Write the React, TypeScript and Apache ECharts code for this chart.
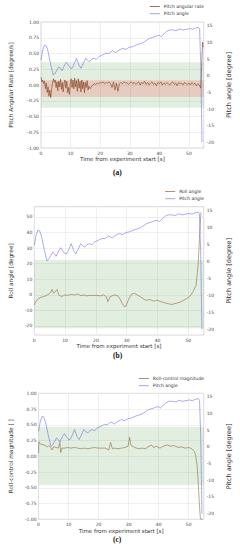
import React, { useEffect, useRef } from "react";
import * as echarts from "echarts";

// ---------- data ----------
const PITCH_T = [0, 0.6, 1.2, 1.8, 2.4, 3.2, 4.1, 4.6, 5.4, 6.0, 6.6, 7.1, 8.0, 8.6, 9.2, 10.0, 10.5, 11.3, 12.0, 12.8, 13.5, 14.3, 15.1, 15.6, 16.4, 17.1, 17.9, 18.7, 19.6, 20.7, 21.9, 23.0, 24.1, 25.3, 26.4, 27.6, 28.7, 29.8, 31.0, 32.1, 33.2, 34.4, 35.5, 36.6, 37.8, 38.9, 40.0, 40.6, 41.2, 42.3, 43.4, 44.6, 45.7, 46.8, 48.0, 49.1, 50.2, 51.2, 52.2, 53.2, 53.6, 54.0, 54.4];
const PITCH = [4.7, 7.7, 9.2, 8.9, 7.2, 3.7, 0.2, 0.5, 1.7, 2.7, 2.2, 1.5, 3.2, 4.0, 3.2, 2.2, 2.2, 3.7, 5.2, 3.2, 2.2, 3.7, 5.2, 4.7, 4.2, 4.9, 5.2, 4.9, 5.7, 6.2, 6.7, 6.7, 7.5, 6.9, 7.7, 8.2, 7.9, 8.5, 8.7, 9.2, 9.5, 9.9, 10.5, 11.2, 11.5, 11.9, 12.1, 11.7, 12.2, 13.2, 13.7, 13.7, 13.5, 14.0, 13.7, 13.9, 14.1, 13.9, 14.3, 14.5, 14.0, 3.0, -20.0];

const RATE_T = [0, 0.3, 0.6, 0.9, 1.2, 1.5, 1.8, 2.1, 2.4, 2.7, 3.0, 3.3, 3.6, 3.9, 4.2, 4.5, 4.8, 5.1, 5.4, 5.7, 6.0, 6.3, 6.6, 6.9, 7.2, 7.5, 7.8, 8.1, 8.4, 8.7, 9.0, 9.3, 9.6, 9.9, 10.2, 10.5, 10.8, 11.1, 11.4, 11.7, 12.0, 12.3, 12.6, 12.9, 13.2, 13.5, 13.8, 14.1, 14.4, 14.7, 15.0, 15.3, 15.6, 15.9, 16.2, 16.6, 17.0, 17.5, 18.0, 18.5, 19.0, 19.5, 20.0, 20.5, 21.0, 21.5, 22.0, 22.5, 23.0, 23.5, 24.0, 24.5, 25.0, 25.5, 26.0, 26.5, 27.0, 27.5, 28.0, 28.5, 29.0, 29.5, 30.0, 30.5, 31.0, 31.5, 32.0, 32.5, 33.0, 33.5, 34.0, 34.5, 35.0, 35.5, 36.0, 36.5, 37.0, 37.5, 38.0, 38.5, 39.0, 39.5, 40.0, 40.5, 41.0, 41.5, 42.0, 42.5, 43.0, 43.5, 44.0, 44.5, 45.0, 45.5, 46.0, 46.5, 47.0, 47.5, 48.0, 48.5, 49.0, 49.5, 50.0, 50.5, 51.0, 51.5, 52.0, 52.5, 53.0, 53.5, 54.0, 54.3, 54.6, 54.8];
const RATE = [0.12, 0.05, 0.08, 0.02, 0.06, -0.06, 0.03, -0.12, -0.03, -0.18, -0.08, -0.2, -0.06, 0.03, 0.1, 0.04, 0.08, -0.04, 0.05, -0.09, 0.06, -0.03, 0.09, -0.07, 0.04, -0.11, 0.03, 0.08, -0.05, 0.06, -0.12, -0.04, -0.15, 0.02, 0.1, -0.04, 0.08, -0.06, 0.11, -0.03, 0.07, -0.1, 0.1, -0.05, 0.06, -0.11, 0.08, -0.06, 0.05, -0.12, 0.04, -0.04, 0.07, -0.08, -0.02, -0.06, -0.03, 0.0, 0.02, 0.01, 0.03, 0.02, 0.04, 0.03, 0.05, 0.02, 0.04, 0.03, 0.05, 0.02, -0.04, 0.05, -0.08, 0.03, -0.1, 0.02, 0.04, 0.02, 0.05, 0.03, 0.04, 0.01, 0.03, 0.05, 0.02, 0.04, 0.01, 0.03, 0.05, 0.0, 0.04, 0.02, 0.06, 0.01, 0.04, 0.0, 0.03, 0.05, 0.01, 0.03, -0.01, 0.04, 0.02, 0.05, 0.0, 0.03, 0.01, 0.04, 0.02, 0.0, 0.03, 0.05, 0.01, 0.03, -0.01, 0.04, 0.02, 0.03, 0.0, 0.04, 0.02, 0.01, 0.03, 0.0, 0.04, 0.01, 0.03, -0.01, 0.02, 0.0, -0.05, 0.3, 0.68, 0.6];

const ROLL_T = [0, 0.5, 1.05, 2.1, 3.2, 4.2, 5.3, 5.8, 6.3, 6.8, 7.4, 7.9, 8.9, 10.0, 11.0, 12.0, 13.1, 14.1, 15.1, 16.1, 17.1, 18.2, 19.2, 20.2, 21.4, 22.5, 23.4, 23.9, 24.6, 26.0, 27.1, 27.7, 28.5, 29.2, 29.8, 30.6, 31.6, 32.5, 33.75, 35.0, 36.25, 37.5, 38.75, 40.0, 41.2, 42.5, 44.5, 46.0, 47.5, 49.0, 50.5, 51.5, 52.5, 53.2, 53.7, 54.1];
const ROLL = [-6.5, -4.4, -2.9, -1.6, -1.1, -0.1, 1.4, 3.5, 1.0, 2.0, 3.5, 0.0, -1.1, -0.1, -0.3, 0.3, -0.1, 0.6, -0.5, -0.1, -0.7, -0.3, -0.5, -0.3, -0.7, -0.1, -1.2, -4.4, -1.2, -0.1, -0.7, -2.2, -5.4, -7.5, -7.2, -3.0, 0.5, 1.0, -0.5, -2.0, -3.5, -3.0, -4.0, -3.5, -4.5, -5.2, -6.2, -5.5, -4.5, -3.0, -1.0, 2.0, 6.0, 20.0, 40.0, 53.0];

const CTRL_T = [0, 0.1, 0.3, 0.8, 1.9, 2.9, 3.4, 4.0, 4.5, 5.0, 6.0, 6.6, 7.1, 7.4, 7.8, 8.6, 9.7, 10.8, 11.9, 13.0, 14.2, 15.3, 16.4, 17.5, 18.7, 19.8, 20.9, 22.2, 23.4, 24.0, 24.6, 25.2, 26.4, 27.6, 28.8, 29.8, 30.3, 30.8, 32.0, 33.2, 34.4, 35.6, 36.8, 37.6, 38.2, 39.2, 40.4, 41.6, 42.8, 44.0, 45.2, 46.4, 47.6, 48.8, 50.0, 51.0, 51.8, 52.3, 52.8, 53.2, 53.6, 53.9, 54.7];
const CTRL = [0.05, 0.23, 0.21, 0.19, 0.18, 0.15, 0.17, 0.14, 0.1, 0.15, 0.14, 0.13, 0.22, 0.06, 0.13, 0.13, 0.14, 0.13, 0.14, 0.13, 0.12, 0.13, 0.12, 0.13, 0.14, 0.13, 0.13, 0.13, 0.1, 0.22, 0.12, 0.13, 0.12, 0.13, 0.14, 0.16, 0.3, 0.17, 0.14, 0.12, 0.13, 0.12, 0.16, 0.18, 0.14, 0.16, 0.13, 0.16, 0.18, 0.16, 0.17, 0.14, 0.15, 0.13, 0.14, 0.12, 0.08, 0.02, -0.15, -0.45, -0.8, -1.0, -1.0];

const X_TICKS = [0, 10, 20, 30, 40, 50];
const RIGHT_TICKS = [-20, -15, -10, -5, 0, 5, 10, 15];
const RATE_TICKS = [-1, -0.75, -0.5, -0.25, 0, 0.25, 0.5, 0.75, 1];
const ROLL_TICKS = [-20, -10, 0, 10, 20, 30, 40, 50];

const GREEN_A = [0.36, -0.36];
const RED_A = [0.075, -0.19];
const GREEN_B = [22.4, -21.5];
const GREEN_C = [0.465, -0.455];

// ---------- styling ----------
const FONT = "DejaVu Sans";
const PITCH_COLOR = "rgba(70,70,235,0.5)";
const BROWN = "rgba(125,55,20,0.72)";
const ROLL_COLOR = "rgba(140,85,40,0.65)";
const CTRL_COLOR = "rgba(135,100,50,0.7)";
const GREEN = "rgba(60,140,40,0.15)";
const RED = "rgba(255,30,30,0.16)";

function pairs(t: number[], v: number[]) {
  return t.map((x, i) => [x, v[i]]);
}

export default function App() {
  const ref = useRef<HTMLDivElement>(null);
  useEffect(() => {
    const chart = echarts.init(ref.current!, null, { renderer: "svg" });

    const panels = [
      { top: 22, height: 126, left: 36, leftName: "Pitch Angular Rate [degree/s]", leftGap: 27, caption: "a", capY: 172 },
      { top: 206.7, height: 128.3, left: 31.7, leftName: "Roll angle [degree]", leftGap: 13.5, caption: "b", capY: 354.5 },
      { top: 393.3, height: 126, left: 35.7, leftName: "Roll-control magnitude [ ]", leftGap: 19, caption: "c", capY: 538.5 },
    ];

    const grid = panels.map((p) => ({
      left: p.left,
      right: 32.3,
      top: p.top,
      height: p.height,
      show: true,
      borderColor: "#c8c8c8",
      borderWidth: 0.7,
      backgroundColor: "#fff",
    }));

    const xAxis = panels.map((p, i) => ({
      type: "value",
      gridIndex: i,
      min: 0,
      max: 55,
      axisLabel: { customValues: X_TICKS, fontSize: 4.5, color: "#444", margin: 2.5, fontFamily: FONT },
      axisTick: { show: false, customValues: X_TICKS },
      axisLine: { show: false },
      splitLine: { show: true, lineStyle: { color: "#e6e6e6", width: 0.6 } },
      name: "Time from experiment start [s]",
      nameLocation: "middle",
      nameGap: 6.5,
      nameTextStyle: { fontSize: 5.5, color: "#333", fontFamily: FONT },
    }));

    const leftCommon = (i: number, p: any) => ({
      type: "value",
      gridIndex: i,
      position: "left",
      axisTick: { show: false },
      axisLine: { show: false },
      splitLine: { show: true, lineStyle: { color: "#e6e6e6", width: 0.6 } },
      name: p.leftName,
      nameLocation: "middle",
      nameGap: p.leftGap,
      nameTextStyle: { fontSize: 5.8, color: "#333", fontFamily: FONT },
    });
    const rightAxis = (i: number) => ({
      type: "value",
      gridIndex: i,
      position: "right",
      min: -21.7,
      max: 16.1,
      axisLabel: { customValues: RIGHT_TICKS, fontSize: 4.5, color: "#444", margin: 3, fontFamily: FONT },
      axisTick: { show: false, customValues: RIGHT_TICKS },
      axisLine: { show: false },
      splitLine: { show: false },
      name: "Pitch angle [degree]",
      nameLocation: "middle",
      nameGap: 13.5,
      nameTextStyle: { fontSize: 6.5, color: "#333", fontFamily: FONT },
    });

    const yAxis = [
      { ...leftCommon(0, panels[0]), min: -1, max: 1, interval: 0.25,
        axisLabel: { customValues: RATE_TICKS, fontSize: 4.5, color: "#444", margin: 2, fontFamily: FONT, formatter: (v: number) => v.toFixed(2) } },
      rightAxis(0),
      { ...leftCommon(1, panels[1]), min: -25.8, max: 56.6,
        axisLabel: { customValues: ROLL_TICKS, fontSize: 4.5, color: "#444", margin: 2, fontFamily: FONT },
        axisTick: { show: false, customValues: ROLL_TICKS } },
      rightAxis(1),
      { ...leftCommon(2, panels[2]), min: -1, max: 1, interval: 0.25,
        axisLabel: { customValues: RATE_TICKS, fontSize: 4.5, color: "#444", margin: 2, fontFamily: FONT, formatter: (v: number) => v.toFixed(2) } },
      rightAxis(2),
    ];

    const band = (xi: number, yi: number, areas: number[][], colors: string[]) => ({
      type: "line",
      xAxisIndex: xi,
      yAxisIndex: yi,
      data: [],
      silent: true,
      z: 1,
      markArea: {
        silent: true,
        data: areas.map((a, k) => [
          { yAxis: a[0], itemStyle: { color: colors[k] } },
          { yAxis: a[1] },
        ]),
      },
    });

    const lineSeries = (name: string, xi: number, yi: number, data: number[][], color: string, w = 0.8) => ({
      type: "line",
      name,
      xAxisIndex: xi,
      yAxisIndex: yi,
      data,
      showSymbol: false,
      symbol: "none",
      color,
      lineStyle: { color, width: w },
      z: 3,
    });

    const series = [
      band(0, 0, [GREEN_A, RED_A], [GREEN, RED]),
      band(1, 2, [GREEN_B], [GREEN]),
      band(2, 4, [GREEN_C], [GREEN]),
      lineSeries("Pitch angular rate", 0, 0, pairs(RATE_T, RATE), BROWN, 0.8),
      lineSeries("Pitch angle", 0, 1, pairs(PITCH_T, PITCH), PITCH_COLOR, 0.9),
      lineSeries("Roll angle", 1, 2, pairs(ROLL_T, ROLL), ROLL_COLOR, 0.8),
      lineSeries("Pitch angle", 1, 3, pairs(PITCH_T, PITCH), PITCH_COLOR, 0.9),
      lineSeries("Roll-control magnitude", 2, 4, pairs(CTRL_T, CTRL), CTRL_COLOR, 0.8),
      lineSeries("Pitch angle", 2, 5, pairs(PITCH_T, PITCH), PITCH_COLOR, 0.9),
    ];

    const legendBase = {
      orient: "vertical",
      right: 36,
      itemWidth: 10,
      itemHeight: 1,
      itemGap: 2.2,
      padding: 0,
      icon: "rect",
      selectedMode: false,
      textStyle: { fontSize: 4.5, color: "#333", fontFamily: FONT, padding: [0, 0, 0, -1] },
    };
    const legend = [
      { ...legendBase, top: 4, data: ["Pitch angular rate", "Pitch angle"] },
      { ...legendBase, top: 189, data: ["Roll angle", "Pitch angle"] },
      { ...legendBase, top: 376, data: ["Roll-control magnitude", "Pitch angle"] },
    ];

    const graphic = panels.map((p) => ({
      type: "text",
      left: 113,
      top: p.capY - 3.5,
      style: {
        text: "(" + p.caption + ")",
        font: "bold 7.5px 'Liberation Serif'",
        fill: "#111",
      },
    }));

    chart.setOption({
      animation: false,
      backgroundColor: "#fff",
      grid,
      xAxis,
      yAxis,
      series,
      legend,
      graphic,
    } as any);

    return () => chart.dispose();
  }, []);

  return (
    <div
      ref={ref}
      style={{ position: "fixed", left: 0, top: 0, width: 240, height: 550, background: "#fff" }}
    />
  );
}
